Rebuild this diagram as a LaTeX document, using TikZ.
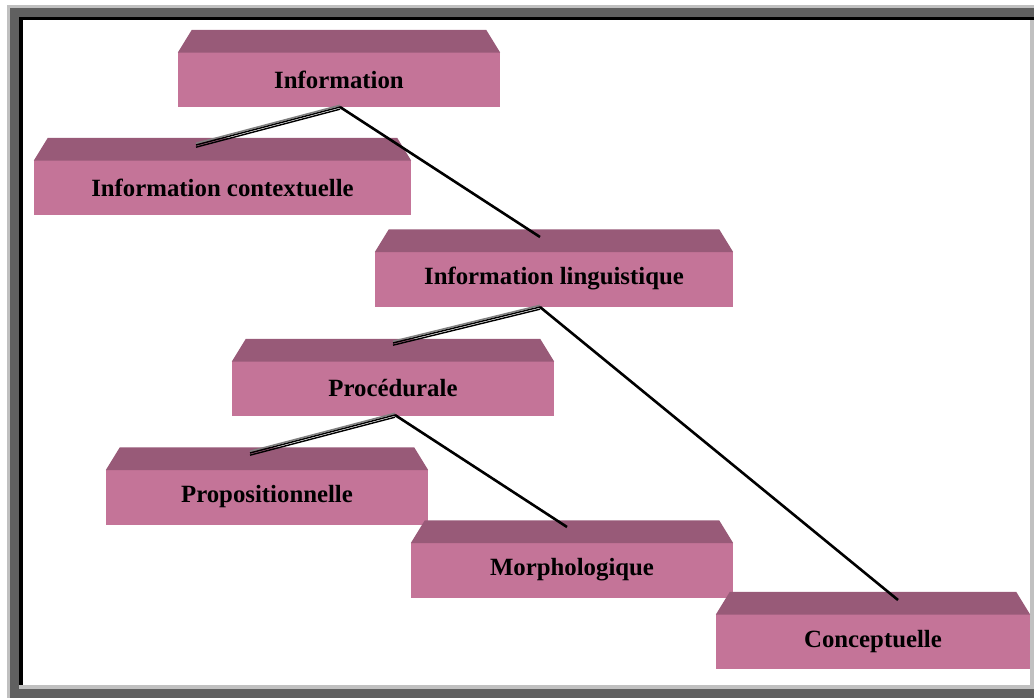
\documentclass[tikz,border=0pt]{standalone}
\usepackage{fontspec}
\setmainfont{Liberation Serif}
\definecolor{slabfront}{RGB}{196,116,152}
\definecolor{slabtopc}{RGB}{152,90,120}
\definecolor{framedark}{RGB}{96,96,96}
\definecolor{framelight}{RGB}{192,192,192}
\tikzset{
  slab/.style={fill=slabfront, minimum width=#1, minimum height=55, inner sep=0pt,
    font=\fontsize{24.8}{30}\selectfont\bfseries, text=black},
  slabtopface/.style={fill=slabtopc},
  plainlink/.style={draw=black, line width=2.6pt},
  linkhi/.style={draw=black!50, line width=1.5pt},
  linklo/.style={draw=black, line width=1.4pt},
}
% darker top face of a slab, set back 14 units on each side
\newcommand\slabtop[1]{%
  \fill[slabtopface] ([yshift=-0.8pt]#1.north west) -- ([shift={(14,-22)}]#1.north west)
    -- ([shift={(-14,-22)}]#1.north east) -- ([yshift=-0.8pt]#1.north east) -- cycle;}
% three-stroke link: grey highlight above two black strokes
\newcommand\tripleline[2]{%
  \draw[linkhi] ([yshift=1.7pt]#1) -- ([yshift=1.7pt]#2);
  \draw[linklo] (#1) -- (#2);
  \draw[linklo] ([yshift=-2.2pt]#1) -- ([yshift=-2.2pt]#2);}
\begin{document}
\begin{tikzpicture}[x=1pt,y=-1pt]
\useasboundingbox (0,0) rectangle (1034,698);
\fill[white] (0,0) rectangle (1034,698);
% sunken window frame
\fill[framelight] (7,5) rectangle (1034,698);
\fill[framedark] (10,8) rectangle (1034,17);
\fill[framedark] (10,8) rectangle (19,698);
\fill[framedark] (10,689) rectangle (1034,698);
\fill[black] (19,17) rectangle (1034,20);
\fill[black] (19,17) rectangle (23,685);
\fill[framelight] (19,685) rectangle (1034,689);
\fill[framelight] (1030,20) rectangle (1034,689);
\fill[white] (23,20) rectangle (1030,685);

% slabs
\node[slab=322] (info)  at (339,79.5)   {Information};
\node[slab=377] (ctx)   at (222.5,187.5) {Information contextuelle};
\node[slab=358] (ling)  at (554,279)    {Information linguistique};
\node[slab=322] (proc)  at (393,388.5)  {Procédurale};
\node[slab=322] (prop)  at (267,497)    {Propositionnelle};
\node[slab=322] (morph) at (572,570)    {Morphologique};
\node[slab=314] (conc)  at (873,641.5)  {Conceptuelle};
\foreach \n in {info,ctx,ling,proc,prop,morph,conc} {\slabtop{\n}}

% link ends
\coordinate (infoJ)  at (340,107);
\coordinate (ctxT)   at (196,145);
\coordinate (lingT)  at (540,237);
\coordinate (lingJ)  at (540,307);
\coordinate (procT)  at (393,343);
\coordinate (concT)  at (898,600);
\coordinate (procJ)  at (395,415);
\coordinate (propT)  at (250,453);
\coordinate (morphT) at (567,527);

% links
\tripleline{infoJ}{ctxT}
\draw[plainlink] (infoJ) -- (lingT);
\tripleline{lingJ}{procT}
\draw[plainlink] (lingJ) -- (concT);
\tripleline{procJ}{propT}
\draw[plainlink] (procJ) -- (morphT);
\end{tikzpicture}
\end{document}
